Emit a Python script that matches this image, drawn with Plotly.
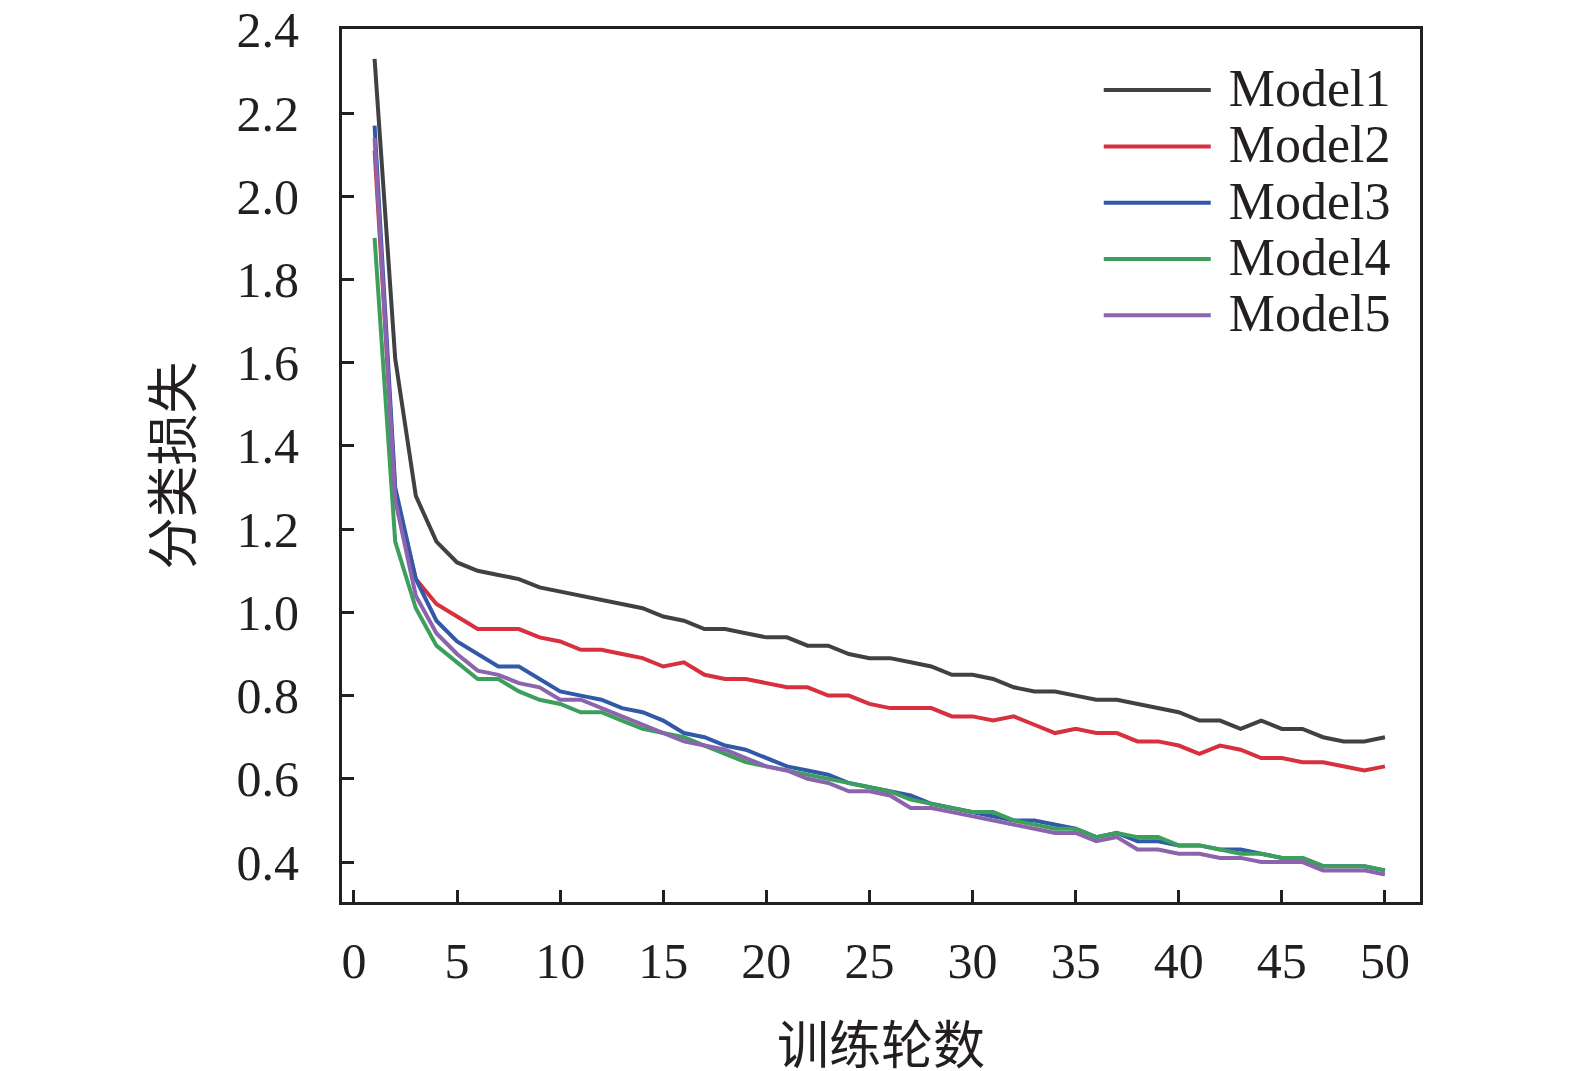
import plotly.graph_objs as go

# epochs and loss curves
epochs = list(range(1, 51))

model1 = [2.33, 1.61, 1.28, 1.17, 1.12, 1.10, 1.09, 1.08, 1.06, 1.05,
          1.04, 1.03, 1.02, 1.01, 0.99, 0.98, 0.96, 0.96, 0.95, 0.94,
          0.94, 0.92, 0.92, 0.90, 0.89, 0.89, 0.88, 0.87, 0.85, 0.85,
          0.84, 0.82, 0.81, 0.81, 0.80, 0.79, 0.79, 0.78, 0.77, 0.76,
          0.74, 0.74, 0.72, 0.74, 0.72, 0.72, 0.70, 0.69, 0.69, 0.70]

model2 = [2.11, 1.29, 1.08, 1.02, 0.99, 0.96, 0.96, 0.96, 0.94, 0.93,
          0.91, 0.91, 0.90, 0.89, 0.87, 0.88, 0.85, 0.84, 0.84, 0.83,
          0.82, 0.82, 0.80, 0.80, 0.78, 0.77, 0.77, 0.77, 0.75, 0.75,
          0.74, 0.75, 0.73, 0.71, 0.72, 0.71, 0.71, 0.69, 0.69, 0.68,
          0.66, 0.68, 0.67, 0.65, 0.65, 0.64, 0.64, 0.63, 0.62, 0.63]

model3 = [2.17, 1.30, 1.08, 0.98, 0.93, 0.90, 0.87, 0.87, 0.84, 0.81,
          0.80, 0.79, 0.77, 0.76, 0.74, 0.71, 0.70, 0.68, 0.67, 0.65,
          0.63, 0.62, 0.61, 0.59, 0.58, 0.57, 0.56, 0.54, 0.53, 0.52,
          0.51, 0.50, 0.50, 0.49, 0.48, 0.46, 0.47, 0.45, 0.45, 0.44,
          0.44, 0.43, 0.43, 0.42, 0.41, 0.41, 0.39, 0.39, 0.39, 0.38]

model4 = [1.90, 1.17, 1.01, 0.92, 0.88, 0.84, 0.84, 0.81, 0.79, 0.78,
          0.76, 0.76, 0.74, 0.72, 0.71, 0.70, 0.68, 0.66, 0.64, 0.63,
          0.62, 0.61, 0.60, 0.59, 0.58, 0.57, 0.55, 0.54, 0.53, 0.52,
          0.52, 0.50, 0.49, 0.48, 0.48, 0.46, 0.47, 0.46, 0.46, 0.44,
          0.44, 0.43, 0.42, 0.42, 0.41, 0.41, 0.39, 0.39, 0.39, 0.38]

model5 = [2.14, 1.27, 1.04, 0.95, 0.90, 0.86, 0.85, 0.83, 0.82, 0.79,
          0.79, 0.77, 0.75, 0.73, 0.71, 0.69, 0.68, 0.67, 0.65, 0.63,
          0.62, 0.60, 0.59, 0.57, 0.57, 0.56, 0.53, 0.53, 0.52, 0.51,
          0.50, 0.49, 0.48, 0.47, 0.47, 0.45, 0.46, 0.43, 0.43, 0.42,
          0.42, 0.41, 0.41, 0.40, 0.40, 0.40, 0.38, 0.38, 0.38, 0.37]

names = ['Model1', 'Model2', 'Model3', 'Model4', 'Model5']
series = [model1, model2, model3, model4, model5]
colors = ['#414144', '#d7303f', '#3259a8', '#3ca05c', '#8c63ad']

x_ticks = [0, 5, 10, 15, 20, 25, 30, 35, 40, 45, 50]
y_ticks = [0.4, 0.6, 0.8, 1.0, 1.2, 1.4, 1.6, 1.8, 2.0, 2.2, 2.4]

serif = 'Liberation Serif, Times New Roman, serif'
cjk = 'Noto Sans CJK SC'
ink = '#231f20'

# legend text drawn bigger than the legend font so rows stay tight
data = [go.Scatter(x=epochs, y=s, mode='lines',
                   name='<span style="font-size:52px">&nbsp;%s</span>' % n,
                   line=dict(color=c, width=4))
        for n, s, c in zip(names, series, colors)]

axis_style = dict(ticks='inside', ticklen=12, tickwidth=3, tickcolor=ink,
                  showline=True, linewidth=3, linecolor=ink, mirror=True,
                  showgrid=False, zeroline=False, automargin=False,
                  ticklabeloverflow='allow',
                  tickfont=dict(family=serif, size=50, color=ink))

layout = go.Layout(
    width=1575, height=1071,
    paper_bgcolor='white', plot_bgcolor='white',
    margin=dict(l=334, r=163, t=21, b=177),
    font=dict(family=serif, size=50, color=ink),
    xaxis=dict(range=[-0.58, 51.7], tickvals=x_ticks, ticklabelstandoff=13,
               title=dict(text='训练轮数', standoff=43,
                          font=dict(family=cjk, size=52, color=ink)),
               **axis_style),
    yaxis=dict(range=[0.304, 2.402], tickvals=y_ticks, tickformat='.1f',
               ticklabelstandoff=30,
               title=dict(text='分类损失', standoff=28,
                          font=dict(family=cjk, size=52, color=ink)),
               **axis_style),
    legend=dict(x=0.702, y=0.968, xanchor='left', yanchor='top',
                bgcolor='rgba(0,0,0,0)', itemwidth=107,
                font=dict(family=serif, size=41, color=ink)),
)

fig = go.Figure(data=data, layout=layout)
fig.write_html("out.html")
